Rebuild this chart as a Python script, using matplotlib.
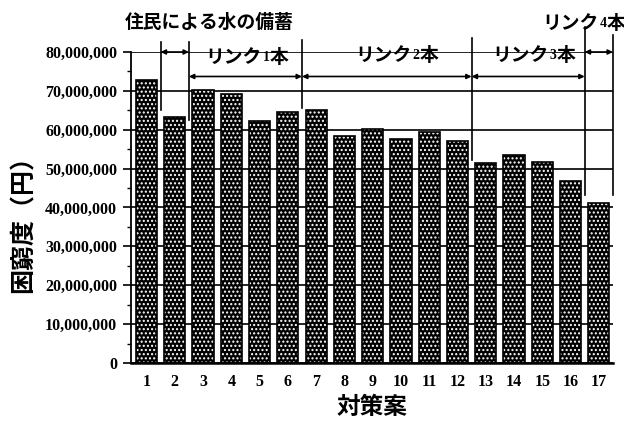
import numpy as np
import matplotlib.pyplot as plt
from matplotlib.ticker import MultipleLocator, FuncFormatter

plt.rcParams['font.family'] = ['Noto Sans CJK JP', 'DejaVu Sans']

# 対策案 and 困窮度 (円)
plans = np.arange(1, 18)
hardship = [72.8e6, 63.2e6, 70.1e6, 69.2e6, 62.2e6, 64.6e6, 65.0e6, 58.3e6, 60.2e6,
            57.7e6, 59.5e6, 57.2e6, 51.5e6, 53.6e6, 51.8e6, 46.7e6, 41.2e6]

# bracket groups: label, first plan, last plan
groups = ["住民による水の備蓄", "リンク1本", "リンク2本", "リンク3本", "リンク4本"]
group_first = [2, 3, 7, 13, 17]
group_last = [2, 6, 12, 16, 17]

fig = plt.figure(figsize=(6.24, 4.21), dpi=100)
ax = fig.add_axes([0.2099, 0.1378, 0.7724, 0.7387])

ax.bar(plans, hardship, width=0.75, color='black', edgecolor='white',
       linewidth=0, hatch='....', zorder=2)
ax.bar(plans, hardship, width=0.75, fill=False, edgecolor='black',
       linewidth=1.2, zorder=3)

ax.set_xlim(0.45, 17.5)
ax.set_ylim(0, 80e6)
ax.yaxis.set_major_locator(MultipleLocator(10e6))
ax.yaxis.set_minor_locator(MultipleLocator(5e6))
ax.yaxis.set_major_formatter(FuncFormatter(lambda v, p: f"{int(v):,}"))
ax.set_xticks(plans)

ax.grid(axis='y', color='black', linewidth=1.2)
ax.set_axisbelow(True)
ax.get_ygridlines()[-1].set_visible(False)

for s in ['top', 'right']:
    ax.spines[s].set_visible(False)
ax.spines['left'].set_linewidth(1.3)
ax.spines['bottom'].set_linewidth(1.8)

ax.tick_params(axis='y', which='major', length=6, width=1.2, pad=4)
ax.tick_params(axis='y', which='minor', length=3, width=1)
ax.tick_params(axis='x', length=0, pad=8)
for lab in ax.get_yticklabels():
    lab.set_fontfamily('Liberation Serif')
    lab.set_fontweight('bold')
    lab.set_fontsize(11.5)
for lab in ax.get_xticklabels():
    lab.set_fontfamily('Liberation Serif')
    lab.set_fontweight('bold')
    lab.set_fontsize(11.5)

ax.set_ylabel("困窮度（円）", fontsize=18, fontweight='bold')
ax.yaxis.set_label_coords(-0.198, 0.465)
ax.set_xlabel("対策案", fontsize=17, fontweight='bold')
ax.xaxis.set_label_coords(0.5, -0.103)

# brackets
tops = [82.5e6, 82.5e6, 83e6, 83.5e6, 86.4e6, 84.3e6]
bottoms = [65e6, 62.5e6, 65.5e6, 52.2e6, 43.2e6, 43.2e6]
bounds = [group_first[0] - 0.5] + [g + 0.5 for g in group_last]
for xb, yt, yb in zip(bounds, tops, bottoms):
    ax.plot([xb, xb], [yb, yt], color='black', linewidth=1.2, clip_on=False, zorder=4)

arrow_y = [80e6, 73.7e6, 73.7e6, 73.7e6, 80e6]
for f, l, ya in zip(group_first, group_last, arrow_y):
    ax.annotate('', xy=(f - 0.5, ya), xytext=(l + 0.5, ya),
                arrowprops=dict(arrowstyle='<|-|>', color='black', lw=1.2,
                                mutation_scale=7, shrinkA=0, shrinkB=0),
                annotation_clip=False, zorder=4)

# group labels (left edge x, center y); digits are set smaller as in the original
label_pos = [(0.24, 87.7e6), (3.07, 78.7e6), (8.37, 79.2e6), (13.22, 79.2e6), (14.99, 87.4e6)]
for txt, (xt, yt) in zip(groups, label_pos):
    if txt.startswith("リンク"):
        t1 = ax.text(xt, yt, "リンク", fontsize=13.5, fontweight='bold',
                     ha='left', va='center')
        t2 = ax.annotate(txt[3], xy=(1, 0.16), xycoords=t1, xytext=(1, 0),
                         textcoords='offset points', fontsize=10,
                         fontweight='bold', ha='left', va='bottom',
                         family='Liberation Serif')
        ax.annotate(txt[4:], xy=(1, 0), xycoords=(t2, t1), fontsize=13.5,
                    fontweight='bold', ha='left', va='bottom')
    else:
        ax.text(xt, yt, txt, fontsize=13.5, fontweight='bold', ha='left', va='center')

fig.savefig('out.png', dpi=100)
